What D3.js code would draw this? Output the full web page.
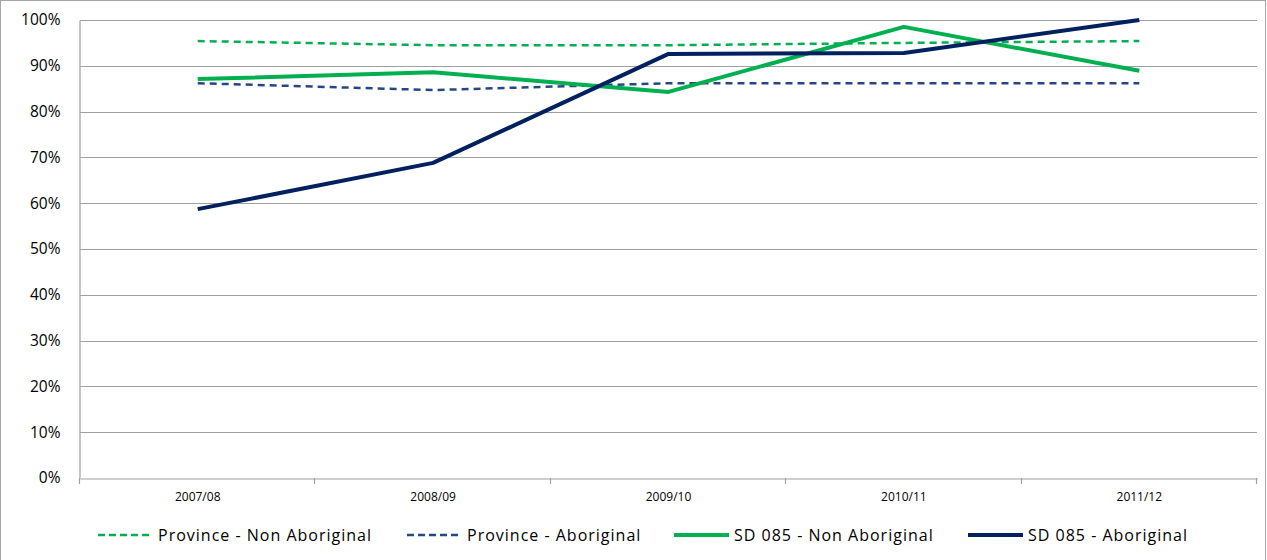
<!DOCTYPE html>
<html>
<head>
<meta charset="utf-8">
<script src="https://cdnjs.cloudflare.com/ajax/libs/d3/7.8.5/d3.min.js"></script>
<style>
  body { margin: 0; background: #fff; }
  text { font-family: "Open Sans", "DejaVu Sans", sans-serif; fill: #000; }
</style>
</head>
<body>
<div id="chart"></div>
<script>
// school years on the x axis
var years = ["2007/08", "2008/09", "2009/10", "2010/11", "2011/12"];

// values in percent
var provinceNonAboriginal = [95.4, 94.5, 94.5, 95.0, 95.4];
var provinceAboriginal = [86.2, 84.7, 86.2, 86.2, 86.2];
var sdNonAboriginal = [87.1, 88.6, 84.3, 98.5, 88.9];
var sdAboriginal = [58.7, 68.8, 92.6, 92.8, 100];

var yTicks = [0, 10, 20, 30, 40, 50, 60, 70, 80, 90, 100];

var seriesList = [
    {name: "Province - Non Aboriginal", values: provinceNonAboriginal, color: "#00b050", width: 2.5, dash: "7,5"},
    {name: "Province - Aboriginal", values: provinceAboriginal, color: "#264785", width: 2.5, dash: "7,5"},
    {name: "SD 085 - Non Aboriginal", values: sdNonAboriginal, color: "#00b050", width: 4, dash: null},
    {name: "SD 085 - Aboriginal", values: sdAboriginal, color: "#002060", width: 4, dash: null}
];

var width = 1267, height = 560;
var plot = {left: 80, right: 1257, top: 20, bottom: 478};

var svg = d3.select("#chart").append("svg")
    .attr("width", width)
    .attr("height", height);

// outer frame of the chart
svg.append("rect")
    .attr("x", 0.5).attr("y", 0.5)
    .attr("width", width - 2).attr("height", height + 5)
    .attr("fill", "none")
    .attr("stroke", "#a6a6a6");

var x = d3.scaleBand().domain(years).range([plot.left, plot.right]);
var y = d3.scaleLinear().domain([0, 100]).range([plot.bottom, plot.top]);

// horizontal gridlines
svg.append("g").selectAll("line")
    .data(yTicks.filter(function(d) { return d > 0; }))
    .enter().append("line")
    .attr("x1", plot.left).attr("x2", plot.right)
    .attr("y1", function(d) { return Math.round(y(d)) + 0.5; })
    .attr("y2", function(d) { return Math.round(y(d)) + 0.5; })
    .attr("stroke", "#a0a0a0")
    .attr("stroke-width", 1.2);

// y axis
var yAxis = svg.append("g")
    .attr("transform", "translate(" + (plot.left - 0.5) + ",0)")
    .call(d3.axisLeft(y).tickValues(yTicks).tickSize(0).tickPadding(19)
        .tickFormat(function(d) { return d + "%"; }));
yAxis.select(".domain").attr("stroke", "#a0a0a0").attr("stroke-width", 1.2);
yAxis.selectAll("text").style("font-size", "15.5px").attr("font-family", null);

// x axis
var xAxis = svg.append("g")
    .attr("transform", "translate(0," + (Math.round(plot.bottom) + 0.5) + ")")
    .call(d3.axisBottom(x).tickSize(0).tickPadding(14));
xAxis.select(".domain").attr("stroke", "#a0a0a0").attr("stroke-width", 1.2);
xAxis.selectAll("text").style("font-size", "12px").attr("font-family", null);

// tick marks between categories
var bounds = years.map(function(d) { return x(d); }).concat([plot.right]);
svg.append("g").selectAll("line")
    .data(bounds)
    .enter().append("line")
    .attr("x1", function(d) { return Math.round(d) - 0.5; })
    .attr("x2", function(d) { return Math.round(d) - 0.5; })
    .attr("y1", plot.bottom)
    .attr("y2", plot.bottom + 6)
    .attr("stroke", "#a0a0a0")
    .attr("stroke-width", 1.2);

var line = d3.line()
    .x(function(d, i) { return x(years[i]) + x.bandwidth() / 2; })
    .y(function(d) { return y(d); });

seriesList.forEach(function(s) {
    svg.append("path")
        .datum(s.values)
        .attr("d", line)
        .attr("fill", "none")
        .attr("stroke", s.color)
        .attr("stroke-width", s.width)
        .attr("stroke-dasharray", s.dash)
        .attr("stroke-linejoin", "round");
});

// legend
var legendX = [98, 407, 674, 968];
var legend = svg.append("g").attr("transform", "translate(0,535)");
seriesList.forEach(function(s, i) {
    var g = legend.append("g").attr("transform", "translate(" + legendX[i] + ",0)");
    g.append("line")
        .attr("x1", 0).attr("x2", 55)
        .attr("y1", 0).attr("y2", 0)
        .attr("stroke", s.color)
        .attr("stroke-width", s.width)
        .attr("stroke-dasharray", s.dash ? "7,4" : null);
    g.append("text")
        .attr("x", 60).attr("y", 6)
        .style("font-size", "16px")
        .style("letter-spacing", "1px")
        .text(s.name);
});
</script>
</body>
</html>
